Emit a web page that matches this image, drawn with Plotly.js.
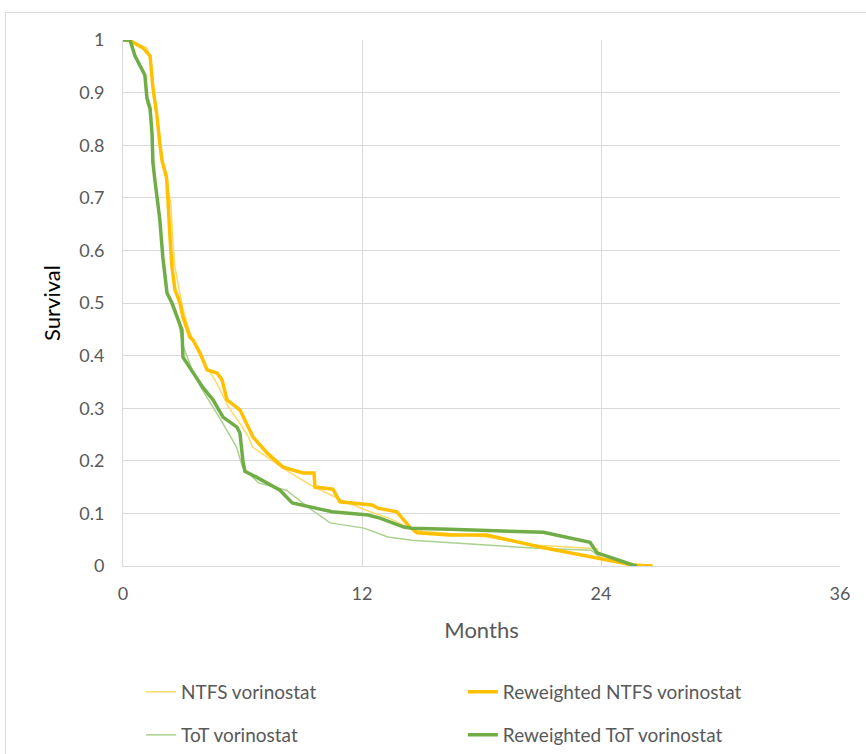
<!DOCTYPE html>
<html>
<head>
<meta charset="utf-8">
<script src="https://cdn.plot.ly/plotly-3.0.1.min.js"></script>
<style>
html,body{margin:0;padding:0;background:#fff;overflow:hidden;}
#chart{width:866px;height:754px;position:absolute;left:0;top:0;}
#frame{position:absolute;left:5px;top:12px;width:880px;height:780px;border:1px solid #d9d9d9;pointer-events:none;}
</style>
</head>
<body>
<div id="chart"></div>
<div id="frame"></div>
<script>
// NTFS vorinostat (thin)
const ntfsMonths = [0,0.5,1.2,1.4,1.6,1.8,2.0,2.2,2.4,2.5,2.6,2.8,3.0,3.3,3.6,3.9,4.7,5.3,6.0,6.3,6.5,7.5,8.4,9.6,10.2,11.0,12.2,13.4,14.3,15.0,16.4,18.3,20.6,23.8,24.0,25.5];
const ntfsSurv   = [1,0.995,0.985,0.96,0.88,0.82,0.77,0.73,0.69,0.62,0.57,0.53,0.49,0.45,0.42,0.397,0.348,0.302,0.264,0.245,0.226,0.2,0.177,0.15,0.139,0.125,0.106,0.09,0.074,0.066,0.062,0.055,0.04,0.033,0.015,0];

// ToT vorinostat (thin)
const totMonths = [0,0.4,0.6,1.1,1.2,1.4,1.5,1.7,1.9,2.0,2.2,2.5,2.8,3.0,3.5,3.9,4.4,5.0,5.7,6.0,6.8,8.2,9.5,10.4,12.1,13.3,14.5,16.4,20.6,23.5,24.0,25.6];
const totSurv   = [1,1,0.97,0.93,0.88,0.86,0.78,0.70,0.64,0.58,0.52,0.49,0.46,0.42,0.37,0.34,0.31,0.272,0.226,0.188,0.158,0.144,0.106,0.082,0.072,0.055,0.049,0.044,0.034,0.03,0.015,0];

// Reweighted NTFS vorinostat (thick)
const rwNtfsMonths = [0,0.3,1.0,1.36,1.5,1.7,1.86,1.96,2.16,2.2,2.36,2.46,2.61,2.86,3.01,3.36,3.51,3.87,4.22,4.72,4.97,5.22,5.87,6.53,7.23,8.03,9.04,9.59,9.64,10.54,10.89,12.5,12.8,13.75,14.4,14.76,16.4,18.27,20.93,23.95,25.6,26.6];
const rwNtfsSurv   = [1,1,0.985,0.97,0.91,0.857,0.80,0.77,0.743,0.734,0.625,0.568,0.525,0.5,0.473,0.435,0.43,0.405,0.373,0.367,0.354,0.316,0.297,0.245,0.215,0.188,0.177,0.177,0.15,0.146,0.122,0.116,0.11,0.103,0.074,0.063,0.059,0.059,0.036,0.015,0.002,0];

// Reweighted ToT vorinostat (thick)
const rwTotMonths = [0,0.35,0.6,0.85,1.1,1.2,1.36,1.46,1.5,1.6,1.85,2.0,2.21,2.46,2.71,2.96,3.01,3.51,4.0,4.52,5.02,5.72,5.87,6.02,6.12,6.7,7.88,8.5,9.39,10.5,12.3,12.9,14.1,14.5,16.4,21.1,23.45,23.8,25.6,25.8];
const rwTotSurv   = [1,1,0.97,0.952,0.933,0.89,0.87,0.82,0.768,0.734,0.658,0.587,0.519,0.5,0.473,0.449,0.397,0.367,0.34,0.316,0.283,0.264,0.253,0.2,0.18,0.169,0.144,0.12,0.112,0.103,0.097,0.091,0.074,0.072,0.07,0.064,0.045,0.025,0.002,0];

const xTicks = [0,12,24,36];
const xTickText = ["0","12","24","36"];
const yTicks = [0,0.1,0.2,0.3,0.4,0.5,0.6,0.7,0.8,0.9,1];
const yTickText = ["0","0.1","0.2","0.3","0.4","0.5","0.6","0.7","0.8","0.9","1"];

const FONT = "Lato, 'Open Sans', sans-serif";

const traces = [
  {x: ntfsMonths, y: ntfsSurv, name: "NTFS vorinostat", mode: "lines",
   line: {color: "#FFD966", width: 1.5}, legend: "legend"},
  {x: totMonths, y: totSurv, name: "ToT vorinostat", mode: "lines",
   line: {color: "#A9D18E", width: 1.5}, legend: "legend3"},
  {x: rwNtfsMonths, y: rwNtfsSurv, name: "Reweighted NTFS vorinostat", mode: "lines",
   line: {color: "#FFC000", width: 3.5}, legend: "legend2"},
  {x: rwTotMonths, y: rwTotSurv, name: "Reweighted ToT vorinostat", mode: "lines",
   line: {color: "#70AD47", width: 3.5}, legend: "legend4"}
];

const legendCommon = {
  orientation: "v", xanchor: "left", yanchor: "middle",
  font: {family: FONT, size: 19, color: "#595959"},
  bgcolor: "rgba(0,0,0,0)", borderwidth: 0
};
const col1X = 0.0251, col2X = 0.474, row1Y = -0.2395, row2Y = -0.3213;

const layout = {
  width: 866, height: 754,
  margin: {l: 123, r: 26, t: 40, b: 188, autoexpand: false},
  paper_bgcolor: "#ffffff", plot_bgcolor: "#ffffff",
  font: {family: FONT, size: 18, color: "#595959"},
  showlegend: true,
  legend:  Object.assign({}, legendCommon, {x: col1X, y: row1Y}),
  legend2: Object.assign({}, legendCommon, {x: col2X, y: row1Y}),
  legend3: Object.assign({}, legendCommon, {x: col1X, y: row2Y}),
  legend4: Object.assign({}, legendCommon, {x: col2X, y: row2Y}),
  xaxis: {
    range: [0, 36], tickmode: "array", tickvals: xTicks, ticktext: xTickText,
    showgrid: true, gridcolor: "#d9d9d9", gridwidth: 1,
    showline: true, linecolor: "#d9d9d9", linewidth: 1,
    zeroline: false, ticks: "", ticklabelstandoff: 11, automargin: false,
    tickfont: {family: FONT, size: 18, color: "#595959"},
    title: {text: "Months", font: {family: FONT, size: 22, color: "#595959"}, standoff: 20}
  },
  yaxis: {
    range: [0, 1], tickmode: "array", tickvals: yTicks, ticktext: yTickText,
    showgrid: true, gridcolor: "#d9d9d9", gridwidth: 1,
    showline: true, linecolor: "#d9d9d9", linewidth: 1,
    zeroline: false, ticks: "", ticklabelstandoff: 14, automargin: false,
    tickfont: {family: FONT, size: 18, color: "#595959"},
    title: {text: "Survival", font: {family: FONT, size: 22, color: "#000000"}, standoff: 12}
  }
};

Plotly.newPlot("chart", traces, layout, {displayModeBar: false, staticPlot: true});
</script>
</body>
</html>
